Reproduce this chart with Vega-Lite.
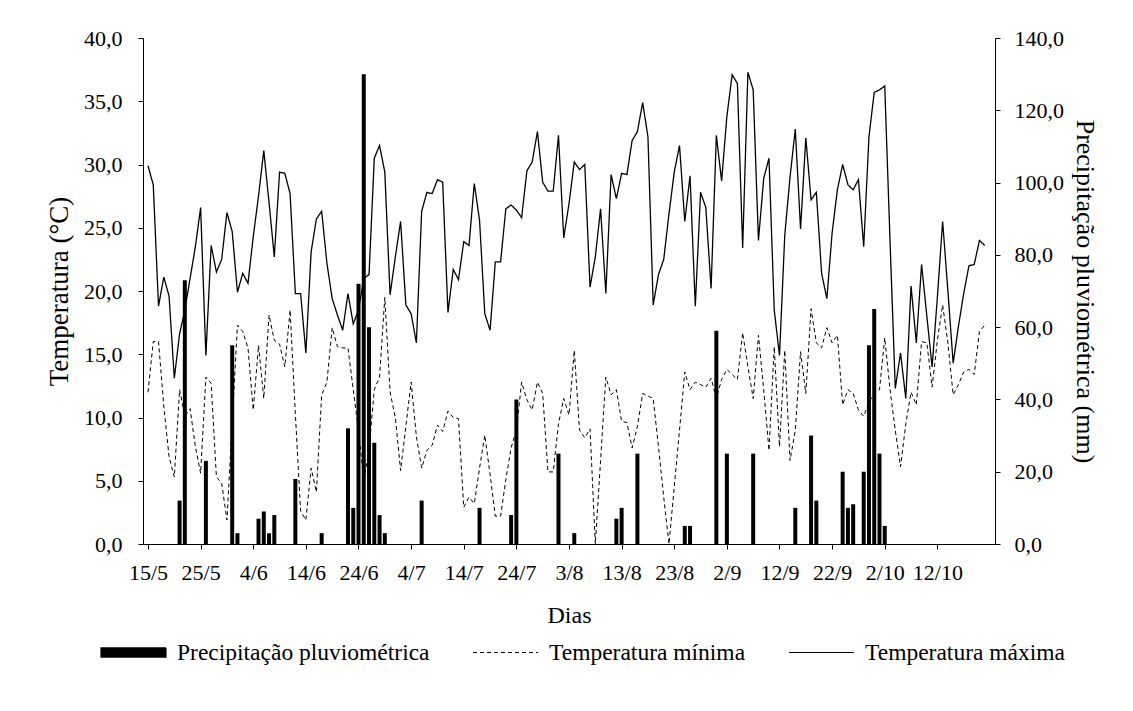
{
"$schema": "https://vega.github.io/schema/vega-lite/v6.json",
"width": 852, "height": 506,
"autosize": {"type": "none"},
"padding": {"left": 143, "top": 38, "right": 138, "bottom": 167},
"background": "white",
"config": {
  "view": {"stroke": null},
  "font": "Liberation Serif",
  "legend": {"labelFont": "Liberation Serif"},
  "axis": {"labelFont": "Liberation Serif", "titleFont": "Liberation Serif", "labelColor": "black", "titleColor": "black", "domainColor": "black", "tickColor": "black", "grid": false, "titleFontWeight": "normal", "labelFontSize": 22, "titleFontSize": 26, "tickSize": 5, "labelFlush": false, "labelOverlap": false}
},
"datasets": {
  "temp": [
{"dia":0,"tmax":29.9,"tmin":12.0},{"dia":1,"tmax":28.4,"tmin":16.0},{"dia":2,"tmax":18.8,"tmin":16.0},{"dia":3,"tmax":21.1,"tmin":10.9},{"dia":4,"tmax":19.6,"tmin":6.9},{"dia":5,"tmax":13.1,"tmin":5.3},{"dia":6,"tmax":16.6,"tmin":12.2},{"dia":7,"tmax":18.5,"tmin":10.1},{"dia":8,"tmax":21.0,"tmin":10.7},{"dia":9,"tmax":23.5,"tmin":7.7},
{"dia":10,"tmax":26.6,"tmin":5.6},{"dia":11,"tmax":14.9,"tmin":13.2},{"dia":12,"tmax":23.6,"tmin":12.7},{"dia":13,"tmax":21.5,"tmin":5.3},{"dia":14,"tmax":22.5,"tmin":4.8},{"dia":15,"tmax":26.2,"tmin":1.9},{"dia":16,"tmax":24.7,"tmin":9.6},{"dia":17,"tmax":19.9,"tmin":17.3},{"dia":18,"tmax":21.4,"tmin":16.8},{"dia":19,"tmax":20.6,"tmin":15.5},
{"dia":20,"tmax":24.3,"tmin":10.6},{"dia":21,"tmax":27.5,"tmin":15.7},{"dia":22,"tmax":31.1,"tmin":11.5},{"dia":23,"tmax":27.0,"tmin":18.1},{"dia":24,"tmax":22.7,"tmin":16.1},{"dia":25,"tmax":29.4,"tmin":15.8},{"dia":26,"tmax":29.3,"tmin":14.0},{"dia":27,"tmax":27.7,"tmin":18.5},{"dia":28,"tmax":19.8,"tmin":10.3},{"dia":29,"tmax":19.8,"tmin":2.6},
{"dia":30,"tmax":15.1,"tmin":1.9},{"dia":31,"tmax":23.1,"tmin":6.0},{"dia":32,"tmax":25.7,"tmin":4.1},{"dia":33,"tmax":26.3,"tmin":11.8},{"dia":34,"tmax":22.2,"tmin":12.8},{"dia":35,"tmax":19.4,"tmin":17.1},{"dia":36,"tmax":18.1,"tmin":15.6},{"dia":37,"tmax":16.9,"tmin":15.5},{"dia":38,"tmax":19.8,"tmin":15.5},{"dia":39,"tmax":17.4,"tmin":12.2},
{"dia":40,"tmax":18.5,"tmin":9.0},{"dia":41,"tmax":21.0,"tmin":5.0},{"dia":42,"tmax":21.3,"tmin":7.5},{"dia":43,"tmax":30.5,"tmin":12.2},{"dia":44,"tmax":31.5,"tmin":13.2},{"dia":45,"tmax":29.4,"tmin":19.5},{"dia":46,"tmax":19.7,"tmin":12.0},{"dia":47,"tmax":22.7,"tmin":10.0},{"dia":48,"tmax":25.5,"tmin":5.8},{"dia":49,"tmax":18.9,"tmin":9.3},
{"dia":50,"tmax":18.2,"tmin":12.8},{"dia":51,"tmax":15.9,"tmin":8.5},{"dia":52,"tmax":26.3,"tmin":6.0},{"dia":53,"tmax":27.8,"tmin":7.4},{"dia":54,"tmax":27.7,"tmin":7.8},{"dia":55,"tmax":28.8,"tmin":9.4},{"dia":56,"tmax":28.6,"tmin":8.9},{"dia":57,"tmax":18.3,"tmin":10.5},{"dia":58,"tmax":21.7,"tmin":10.0},{"dia":59,"tmax":20.9,"tmin":9.9},
{"dia":60,"tmax":23.9,"tmin":2.9},{"dia":61,"tmax":23.6,"tmin":3.7},{"dia":62,"tmax":28.5,"tmin":3.2},{"dia":63,"tmax":25.6,"tmin":6.0},{"dia":64,"tmax":18.2,"tmin":8.6},{"dia":65,"tmax":16.9,"tmin":5.5},{"dia":66,"tmax":22.3,"tmin":2.2},{"dia":67,"tmax":22.3,"tmin":2.2},{"dia":68,"tmax":26.5,"tmin":5.1},{"dia":69,"tmax":26.8,"tmin":7.6},
{"dia":70,"tmax":26.4,"tmin":9.0},{"dia":71,"tmax":25.8,"tmin":12.8},{"dia":72,"tmax":29.5,"tmin":11.4},{"dia":73,"tmax":30.2,"tmin":10.6},{"dia":74,"tmax":32.6,"tmin":12.8},{"dia":75,"tmax":28.6,"tmin":11.9},{"dia":76,"tmax":27.9,"tmin":5.7},{"dia":77,"tmax":27.9,"tmin":5.7},{"dia":78,"tmax":32.3,"tmin":9.5},{"dia":79,"tmax":24.2,"tmin":11.5},
{"dia":80,"tmax":26.9,"tmin":10.2},{"dia":81,"tmax":30.2,"tmin":15.3},{"dia":82,"tmax":29.6,"tmin":9.0},{"dia":83,"tmax":30.0,"tmin":8.4},{"dia":84,"tmax":20.3,"tmin":9.1},{"dia":85,"tmax":22.7,"tmin":0.0},{"dia":86,"tmax":26.5,"tmin":6.6},{"dia":87,"tmax":19.8,"tmin":13.2},{"dia":88,"tmax":29.2,"tmin":11.8},{"dia":89,"tmax":27.3,"tmin":12.2},
{"dia":90,"tmax":29.3,"tmin":9.7},{"dia":91,"tmax":29.2,"tmin":9.6},{"dia":92,"tmax":31.9,"tmin":7.6},{"dia":93,"tmax":32.6,"tmin":9.3},{"dia":94,"tmax":34.9,"tmin":11.9},{"dia":95,"tmax":32.2,"tmin":11.7},{"dia":96,"tmax":18.9,"tmin":11.5},{"dia":97,"tmax":21.3,"tmin":7.7},{"dia":98,"tmax":22.5,"tmin":3.7},{"dia":99,"tmax":26.1,"tmin":0.0},
{"dia":100,"tmax":29.4,"tmin":4.5},{"dia":101,"tmax":31.5,"tmin":9.0},{"dia":102,"tmax":25.5,"tmin":13.6},{"dia":103,"tmax":29.1,"tmin":12.2},{"dia":104,"tmax":18.8,"tmin":12.8},{"dia":105,"tmax":27.8,"tmin":12.6},{"dia":106,"tmax":26.6,"tmin":12.4},{"dia":107,"tmax":20.2,"tmin":13.1},{"dia":108,"tmax":32.3,"tmin":11.5},{"dia":109,"tmax":28.7,"tmin":13.0},
{"dia":110,"tmax":33.8,"tmin":13.8},{"dia":111,"tmax":37.1,"tmin":13.4},{"dia":112,"tmax":36.4,"tmin":13.0},{"dia":113,"tmax":23.4,"tmin":16.7},{"dia":114,"tmax":37.3,"tmin":14.0},{"dia":115,"tmax":35.9,"tmin":11.5},{"dia":116,"tmax":24.0,"tmin":16.5},{"dia":117,"tmax":28.9,"tmin":12.2},{"dia":118,"tmax":30.5,"tmin":7.4},{"dia":119,"tmax":18.5,"tmin":15.6},
{"dia":120,"tmax":14.9,"tmin":7.7},{"dia":121,"tmax":24.4,"tmin":15.3},{"dia":122,"tmax":29.0,"tmin":6.6},{"dia":123,"tmax":32.8,"tmin":9.0},{"dia":124,"tmax":24.9,"tmin":15.2},{"dia":125,"tmax":32.1,"tmin":11.9},{"dia":126,"tmax":27.2,"tmin":18.6},{"dia":127,"tmax":27.8,"tmin":15.9},{"dia":128,"tmax":21.4,"tmin":15.5},{"dia":129,"tmax":19.4,"tmin":17.1},
{"dia":130,"tmax":24.6,"tmin":15.9},{"dia":131,"tmax":28.0,"tmin":16.5},{"dia":132,"tmax":30.0,"tmin":11.0},{"dia":133,"tmax":28.4,"tmin":12.2},{"dia":134,"tmax":28.0,"tmin":11.9},{"dia":135,"tmax":28.8,"tmin":10.6},{"dia":136,"tmax":23.5,"tmin":10.1},{"dia":137,"tmax":32.2,"tmin":11.2},{"dia":138,"tmax":35.7,"tmin":11.9},{"dia":139,"tmax":35.9,"tmin":12.2},
{"dia":140,"tmax":36.2,"tmin":16.3},{"dia":141,"tmax":24.0,"tmin":12.2},{"dia":142,"tmax":12.3,"tmin":9.0},{"dia":143,"tmax":15.1,"tmin":6.1},{"dia":144,"tmax":11.5,"tmin":9.5},{"dia":145,"tmax":20.4,"tmin":12.0},{"dia":146,"tmax":15.9,"tmin":11.0},{"dia":147,"tmax":22.1,"tmin":16.0},{"dia":148,"tmax":18.0,"tmin":15.9},{"dia":149,"tmax":14.0,"tmin":12.4},
{"dia":150,"tmax":19.5,"tmin":16.1},{"dia":151,"tmax":25.5,"tmin":18.9},{"dia":152,"tmax":20.0,"tmin":15.9},{"dia":153,"tmax":14.3,"tmin":11.8},{"dia":154,"tmax":17.2,"tmin":12.6},{"dia":155,"tmax":19.8,"tmin":13.6},{"dia":156,"tmax":22.0,"tmin":13.8},{"dia":157,"tmax":22.1,"tmin":13.4},{"dia":158,"tmax":24.0,"tmin":16.8},{"dia":159,"tmax":23.6,"tmin":17.3}
  ],
  "chuva": [
{"dia":6,"prec":12},{"dia":7,"prec":73},{"dia":11,"prec":23},{"dia":16,"prec":55},{"dia":17,"prec":3},{"dia":21,"prec":7},{"dia":22,"prec":9},{"dia":23,"prec":3},{"dia":24,"prec":8},{"dia":28,"prec":18},
{"dia":33,"prec":3},{"dia":38,"prec":32},{"dia":39,"prec":10},{"dia":40,"prec":72},{"dia":41,"prec":130},{"dia":42,"prec":60},{"dia":43,"prec":28},{"dia":44,"prec":8},{"dia":45,"prec":3},{"dia":52,"prec":12},
{"dia":63,"prec":10},{"dia":69,"prec":8},{"dia":70,"prec":40},{"dia":78,"prec":25},{"dia":81,"prec":3},{"dia":89,"prec":7},{"dia":90,"prec":10},{"dia":93,"prec":25},{"dia":102,"prec":5},{"dia":103,"prec":5},
{"dia":108,"prec":59},{"dia":110,"prec":25},{"dia":115,"prec":25},{"dia":123,"prec":10},{"dia":126,"prec":30},{"dia":127,"prec":12},{"dia":132,"prec":20},{"dia":133,"prec":10},{"dia":134,"prec":11},{"dia":136,"prec":20},
{"dia":137,"prec":55},{"dia":138,"prec":65},{"dia":139,"prec":25},{"dia":140,"prec":5}
  ]
},
"layer": [
  {
    "data": {"name": "chuva"},
    "mark": {"type": "bar", "color": "black", "size": 4},
    "encoding": {
      "x": {"field": "dia", "type": "quantitative", "scale": {"domain": [0, 160], "nice": false, "zero": false},
            "axis": {"values": [0,10,20,30,40,50,60,70,80,90,100,110,120,130,140,150], "labelExpr": "['15/5','25/5','4/6','14/6','24/6','4/7','14/7','24/7','3/8','13/8','23/8','2/9','12/9','22/9','2/10','12/10'][round(datum.value/10)]", "title": "Dias", "labelPadding": 13, "titlePadding": 20, "titleFontSize": 24}},
      "y": {"field": "prec", "type": "quantitative", "scale": {"domain": [0, 140], "nice": false},
            "axis": {"orient": "right", "values": [0,20,40,60,80,100,120,140], "labelExpr": "replace(format(datum.value,'.1f'),'.',',')", "title": "Precipitação pluviométrica (mm)", "labelPadding": 14, "titlePadding": 8}}
    }
  },
  {
    "data": {"name": "temp"},
    "layer": [
      {
        "mark": {"type": "line", "color": "black", "strokeWidth": 1.3},
        "encoding": {
          "x": {"field": "dia", "type": "quantitative", "scale": {"domain": [0, 160], "nice": false, "zero": false},
                "axis": {"values": [0,10,20,30,40,50,60,70,80,90,100,110,120,130,140,150], "labelExpr": "['15/5','25/5','4/6','14/6','24/6','4/7','14/7','24/7','3/8','13/8','23/8','2/9','12/9','22/9','2/10','12/10'][round(datum.value/10)]", "title": "Dias", "labelPadding": 13, "titlePadding": 20, "titleFontSize": 24}},
          "y": {"field": "tmax", "type": "quantitative", "scale": {"domain": [0, 40], "nice": false},
                "axis": {"orient": "left", "values": [0,5,10,15,20,25,30,35,40], "labelExpr": "replace(format(datum.value,'.1f'),'.',',')", "title": "Temperatura (°C)", "labelPadding": 16, "titlePadding": 10, "titleFontSize": 27}},
          "strokeDash": {"datum": "Temperatura máxima", "type": "nominal",
            "scale": {"domain": ["Precipitação pluviométrica", "Temperatura mínima", "Temperatura máxima"], "range": [[1,0],[4,3],[1,0]]},
            "legend": {"title": null, "orient": "none", "legendX": -43, "legendY": 581, "direction": "horizontal", "padding": 0,
              "symbolType": "stroke", "symbolSize": 4225, "symbolStrokeWidth": 1.2, "symbolStrokeColor": "black",
              "labelFont": "Liberation Serif", "labelFontSize": 23.5, "labelColor": "black", "labelOffset": 10, "columnPadding": 40, "labelLimit": 400,
              "encode": {"symbols": {"update": {
                "shape": {"signal": "datum.value === 'Precipitação pluviométrica' ? 'M-1,-0.14H1V0.14H-1Z' : 'stroke'"},
                "fill": {"signal": "datum.value === 'Precipitação pluviométrica' ? 'black' : 'transparent'"},
                "stroke": {"value": "black"}}}}}}
        }
      },
      {
        "mark": {"type": "line", "color": "black", "strokeWidth": 1},
        "encoding": {
          "x": {"field": "dia", "type": "quantitative", "scale": {"domain": [0, 160], "nice": false, "zero": false}},
          "y": {"field": "tmin", "type": "quantitative"},
          "strokeDash": {"datum": "Temperatura mínima", "type": "nominal"}
        }
      }
    ]
  }
],
"resolve": {"scale": {"y": "independent"}}
}
